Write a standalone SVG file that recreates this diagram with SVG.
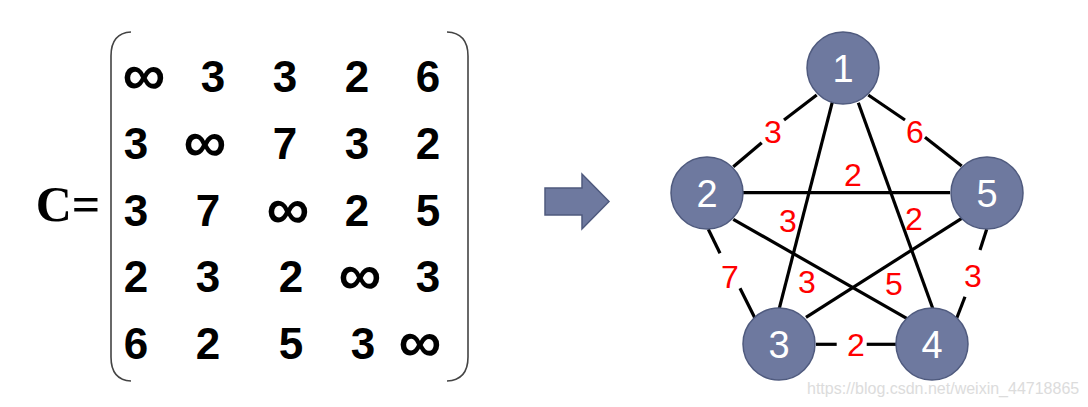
<svg xmlns="http://www.w3.org/2000/svg" width="1088" height="407" viewBox="0 0 1088 407">
<style>
.m{font-family:"Liberation Sans",Arial,sans-serif;font-weight:bold;font-size:44px;fill:#000;text-anchor:middle}
.inf{font-size:60px}
.w{font-family:"Liberation Sans",Arial,sans-serif;font-size:32px;fill:#ff0000;text-anchor:middle}
.nl{font-family:"Liberation Sans",Arial,sans-serif;font-size:38px;fill:#fff;text-anchor:middle}
.node{fill:#6e799f;stroke:#4f5a7e;stroke-width:1.5}
.e{stroke:#000;stroke-width:3.2;fill:none}
.br{fill:none;stroke:#444;stroke-width:1.6}
</style>
<rect width="1088" height="407" fill="#fff"/>
<g id="matrix">
<text x="68" y="221" font-family="Liberation Serif,Times New Roman,serif" font-weight="bold" font-size="50" text-anchor="middle">C=</text>
<path class="br" d="M131,32 Q111,33 111,56 L111,357 Q111,380 131,381"/>
<path class="br" d="M447,32 Q468,33 468,56 L468,357 Q468,380 447,381"/>
<g class="m">
<text class="inf" x="144" y="95">∞</text><text x="213" y="92">3</text><text x="285" y="92">3</text><text x="357" y="92">2</text><text x="428" y="92">6</text>
<text x="136" y="159">3</text><text class="inf" x="205" y="162">∞</text><text x="285" y="159">7</text><text x="357" y="159">3</text><text x="428" y="159">2</text>
<text x="136" y="226">3</text><text x="208" y="226">7</text><text class="inf" x="288" y="229">∞</text><text x="357" y="226">2</text><text x="428" y="226">5</text>
<text x="136" y="292">2</text><text x="208" y="292">3</text><text x="291" y="292">2</text><text class="inf" x="360" y="295">∞</text><text x="428" y="292">3</text>
<text x="136" y="359">6</text><text x="208" y="359">2</text><text x="291" y="359">5</text><text x="363" y="359">3</text><text class="inf" x="420" y="362">∞</text>
</g>
</g>
<g id="arrow">
<path d="M545,188 L582,188 L582,174 L609,201.5 L582,229 L582,215 L545,215 Z" fill="#6e799f" stroke="#4f5a7e" stroke-width="1.5"/>
</g>
<g id="connectors">
<line class="e" x1="816.7" y1="95" x2="784" y2="120"/>
<line class="e" x1="761.7" y1="142.7" x2="733.3" y2="166.7"/>
<line class="e" x1="868.3" y1="95" x2="905" y2="120"/>
<line class="e" x1="925" y1="137.3" x2="961.7" y2="166"/>
<line class="e" x1="742.7" y1="192.7" x2="950" y2="192.7"/>
<line class="e" x1="832.7" y1="100.7" x2="779.3" y2="308.3"/>
<line class="e" x1="858.3" y1="102.7" x2="932.7" y2="308.3"/>
<line class="e" x1="708.3" y1="229.3" x2="720" y2="253.3"/>
<line class="e" x1="740" y1="288.3" x2="755" y2="318.3"/>
<line class="e" x1="733.3" y1="219.3" x2="906.7" y2="318.3"/>
<line class="e" x1="806" y1="317.3" x2="961.7" y2="218.3"/>
<line class="e" x1="816" y1="344.3" x2="836.7" y2="344.3"/>
<line class="e" x1="866.7" y1="344.3" x2="896" y2="344.3"/>
<line class="e" x1="986.7" y1="229.3" x2="980" y2="250"/>
<line class="e" x1="965" y1="296.7" x2="956.7" y2="318.3"/>
<g class="w">
<text x="773" y="143">3</text>
<text x="915" y="143">6</text>
<text x="853" y="186">2</text>
<text x="788" y="232">3</text>
<text x="914" y="230">2</text>
<text x="730" y="288">7</text>
<text x="807" y="293">3</text>
<text x="894" y="295">5</text>
<text x="856" y="356">2</text>
<text x="973" y="287">3</text>
</g>
</g>
<g id="n1"><circle class="node" cx="843" cy="68" r="36"/><text class="nl" x="843" y="82">1</text></g>
<g id="n2"><circle class="node" cx="707" cy="193" r="36"/><text class="nl" x="707" y="207">2</text></g>
<g id="n5"><circle class="node" cx="987" cy="193" r="36"/><text class="nl" x="987" y="207">5</text></g>
<g id="n3"><circle class="node" cx="779" cy="344" r="36"/><text class="nl" x="779" y="358">3</text></g>
<g id="n4"><circle class="node" cx="932" cy="344" r="36"/><text class="nl" x="932" y="358">4</text></g>
<text x="807" y="394" font-family="Liberation Sans,Arial,sans-serif" font-size="16" fill="#d4d4d4" opacity="0.8">https://blog.csdn.net/weixin_44718865</text>
</svg>
